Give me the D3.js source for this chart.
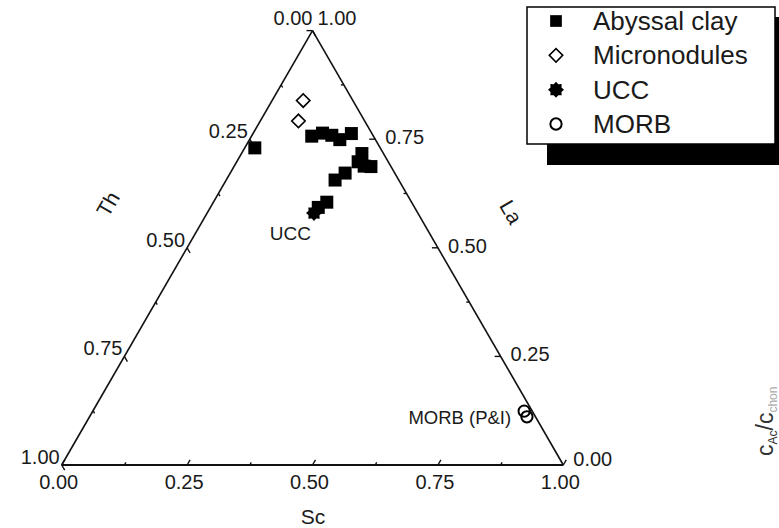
<!DOCTYPE html>
<html>
<head>
<meta charset="utf-8">
<script src="https://cdn.jsdelivr.net/npm/d3@7"></script>
<style>
  html, body { margin: 0; padding: 0; background: #fff; }
  svg { display: block; font-family: "Liberation Sans", Arial, sans-serif; }
</style>
</head>
<body>
<svg id="chart" width="779" height="528"></svg>
<script>
// Ternary compositions, each point as [Sc, La, Th]
const abyssalClay = [
  [0.020, 0.730, 0.250],
  [0.120, 0.757, 0.123],
  [0.138, 0.764, 0.098],
  [0.159, 0.759, 0.082],
  [0.180, 0.749, 0.071],
  [0.196, 0.763, 0.041],
  [0.240, 0.717, 0.043],
  [0.242, 0.698, 0.060],
  [0.273, 0.687, 0.040],
  [0.259, 0.688, 0.053],
  [0.229, 0.672, 0.099],
  [0.217, 0.656, 0.127],
  [0.226, 0.605, 0.169],
  [0.215, 0.593, 0.192]
];
const micronodules = [
  [0.062, 0.839, 0.099],
  [0.076, 0.792, 0.132]
];
const ucc = [
  [0.213, 0.580, 0.207]
];
const morb = [
  [0.860, 0.124, 0.016],
  [0.872, 0.111, 0.017]
];

const majorTicks = [0, 0.25, 0.5, 0.75, 1];
const minorTicks = [0.125, 0.375, 0.625, 0.875];
const tickFormat = d3.format(".2f");

const legendLabels = ["Abyssal clay", "Micronodules", "UCC", "MORB"];
const pointLabels = { ucc: "UCC", morb: "MORB (P&I)" };
const axisTitles = { bottom: "Sc", left: "Th", right: "La" };

const svg = d3.select("#chart");

// Horizontal position follows Sc + La/2, vertical follows La
const xScale = d3.scaleLinear().domain([0, 1]).range([61.7, 563.3]);
const yScale = d3.scaleLinear().domain([0, 1]).range([465, 30.6]);
const project = d => [xScale(d[0] + d[1] / 2), yScale(d[1])];

// Frame of the triangle
const vTh = project([0, 0]);
const vSc = project([1, 0]);
const vLa = project([0, 1]);
const frame = svg.append("g").attr("stroke", "#111").attr("fill", "none");
frame.append("line").attr("x1", vTh[0]).attr("y1", vTh[1]).attr("x2", vSc[0]).attr("y2", vSc[1]).attr("stroke-width", 2.2);
frame.append("line").attr("x1", vTh[0]).attr("y1", vTh[1]).attr("x2", vLa[0]).attr("y2", vLa[1]).attr("stroke-width", 1.6);
frame.append("line").attr("x1", vSc[0]).attr("y1", vSc[1]).attr("x2", vLa[0]).attr("y2", vLa[1]).attr("stroke-width", 1.6);

// Axis definitions: where a value sits on its edge, and which way its ticks point
const s60 = Math.sqrt(3) / 2;
const axes = [
  { name: "bottom", pos: v => project([v, 0]), dir: [0.5, -s60] },
  { name: "left",   pos: v => project([0, 1 - v]), dir: [0.5, s60] },
  { name: "right",  pos: v => project([1 - v, v]), dir: [-1, 0] }
];

const tickG = svg.append("g").attr("stroke", "#111").attr("stroke-width", 1.4);
axes.forEach(ax => {
  [[majorTicks, 6], [minorTicks, 3]].forEach(([vals, len]) => {
    tickG.selectAll(null).data(vals).enter().append("line")
      .attr("x1", v => ax.pos(v)[0])
      .attr("y1", v => ax.pos(v)[1])
      .attr("x2", v => ax.pos(v)[0] + ax.dir[0] * len)
      .attr("y2", v => ax.pos(v)[1] + ax.dir[1] * len);
  });
});

// Tick labels
const labelG = svg.append("g").attr("fill", "#1a1a1a").attr("font-size", 20);
labelG.selectAll(null).data(majorTicks).enter().append("text")
  .attr("x", v => axes[0].pos(v)[0] - 3)
  .attr("y", v => axes[0].pos(v)[1] + 24)
  .attr("text-anchor", "middle")
  .text(tickFormat);
labelG.selectAll(null).data(majorTicks).enter().append("text")
  .attr("x", v => axes[1].pos(v)[0] - (v === 0 ? 0 : 2))
  .attr("y", v => axes[1].pos(v)[1] + (v === 0 ? -6 : -1))
  .attr("text-anchor", "end")
  .text(tickFormat);
labelG.selectAll(null).data(majorTicks).enter().append("text")
  .attr("x", v => axes[2].pos(v)[0] + (v === 1 ? 5 : 10))
  .attr("y", v => axes[2].pos(v)[1] + (v === 1 ? -6 : v === 0 ? 1 : 5))
  .attr("text-anchor", "start")
  .text(tickFormat);

// Axis titles
const titleG = svg.append("g").attr("fill", "#1a1a1a").attr("font-size", 21).attr("text-anchor", "middle");
titleG.append("text").attr("transform", "translate(313,524)").text(axisTitles.bottom);
titleG.append("text").attr("transform", "translate(108,204) rotate(-60)").attr("dy", "0.35em").text(axisTitles.left);
titleG.append("text").attr("transform", "translate(511,212) rotate(60)").attr("dy", "0.35em").text(axisTitles.right);

// Eight-pointed star used for UCC
const star8 = {
  draw(ctx, size) {
    const R = Math.sqrt(size) / 2;
    const r = R * 0.74;
    for (let i = 0; i < 16; i++) {
      const a = i * Math.PI / 8 - Math.PI / 2;
      const rad = i % 2 ? r : R;
      const x = rad * Math.cos(a), y = rad * Math.sin(a);
      if (i === 0) ctx.moveTo(x, y); else ctx.lineTo(x, y);
    }
    ctx.closePath();
  }
};

const styles = {
  square:  { path: d3.symbol(d3.symbolSquare, 169)(), fill: "#000", stroke: "none", sw: 0, rot: 0 },
  diamond: { path: d3.symbol(d3.symbolSquare, 90)(), fill: "#fff", stroke: "#000", sw: 1.6, rot: 45 },
  star:    { path: d3.symbol(star8, 256)(), fill: "#000", stroke: "none", sw: 0, rot: 0 },
  circle:  { path: d3.symbol(d3.symbolCircle, 100)(), fill: "none", stroke: "#000", sw: 2, rot: 0 }
};

function drawSeries(data, st) {
  svg.append("g").selectAll("path").data(data).enter().append("path")
    .attr("d", st.path)
    .attr("fill", st.fill)
    .attr("stroke", st.stroke)
    .attr("stroke-width", st.sw)
    .attr("transform", d => { const p = project(d); return `translate(${p[0]},${p[1]}) rotate(${st.rot})`; });
}
drawSeries(abyssalClay, styles.square);
drawSeries(micronodules, styles.diamond);
drawSeries(ucc, styles.star);
drawSeries(morb, styles.circle);

// Point annotations
const uccP = project(ucc[0]);
svg.append("text").attr("x", uccP[0] - 3).attr("y", uccP[1] + 27)
  .attr("text-anchor", "end").attr("font-size", 19).attr("fill", "#1a1a1a").text(pointLabels.ucc);
const morbP = project(morb[0]);
svg.append("text").attr("x", morbP[0] - 13).attr("y", morbP[1] + 13)
  .attr("text-anchor", "end").attr("font-size", 18.5).attr("fill", "#1a1a1a").text(pointLabels.morb);

// Legend with offset shadow
const legend = svg.append("g");
legend.append("rect").attr("x", 547).attr("y", 17).attr("width", 260).attr("height", 148).attr("fill", "#000");
legend.append("rect").attr("x", 527).attr("y", 7).attr("width", 248).attr("height", 137)
  .attr("fill", "#fff").attr("stroke", "#000").attr("stroke-width", 1.5);
const legendStyles = [styles.square, styles.diamond, styles.star, styles.circle];
const rowY = d3.scalePoint().domain(legendLabels).range([21, 124]);
legendLabels.forEach((lab, i) => {
  const st = legendStyles[i];
  const y = rowY(lab);
  legend.append("path").attr("d", st.path).attr("fill", st.fill).attr("stroke", st.stroke)
    .attr("stroke-width", st.sw)
    .attr("transform", `translate(556,${y}) rotate(${st.rot}) scale(${i === 0 ? 0.9 : 1})`);
  legend.append("text").attr("x", 593).attr("y", y + 9).attr("font-size", 26).attr("fill", "#1a1a1a").text(lab);
});

// Neighbouring panel's axis title, partly cut off at the right edge
const side = svg.append("text").attr("transform", "translate(773,456) rotate(-90)")
  .attr("font-size", 23).attr("fill", "#333");
side.append("tspan").text("c");
side.append("tspan").attr("font-size", 12).attr("dy", 4).text("Ac");
side.append("tspan").attr("dy", -4).text("/c");
side.append("tspan").attr("font-size", 12).attr("dy", 4).attr("fill", "#aaa").text("chon");
</script>
</body>
</html>
